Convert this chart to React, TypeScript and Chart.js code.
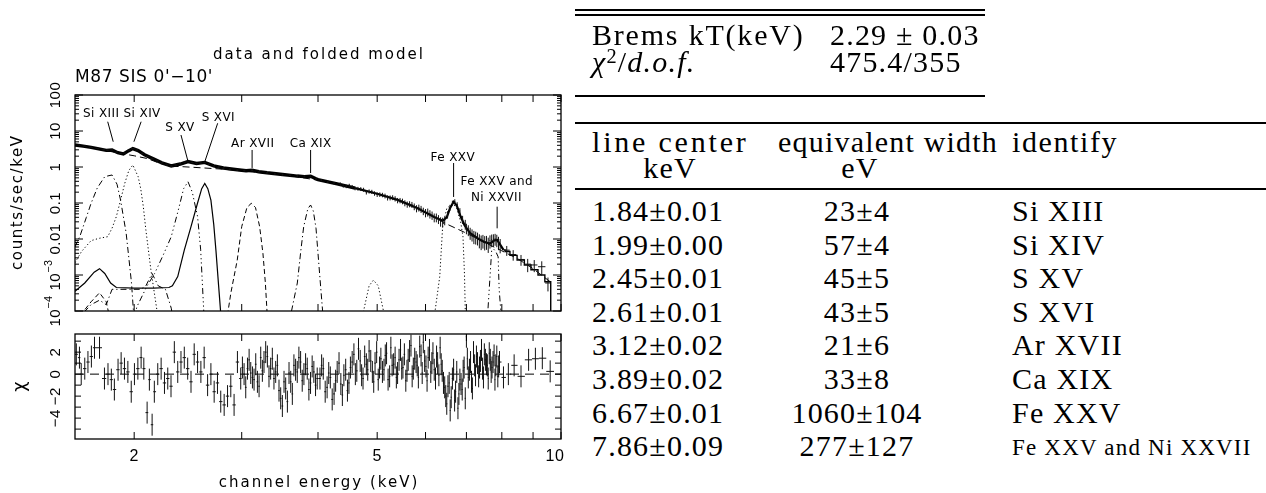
import React, { useEffect, useRef } from 'react';
import { Chart, registerables } from 'chart.js';

Chart.register(...registerables);

// ---------------- axis ranges / ticks ----------------
const E_MIN = 1.6;
const E_MAX = 10;
const RATE_MIN = 1e-4;
const RATE_MAX = 100;
const CHI_MIN = -5.9;
const CHI_MAX = 3.65;
const CHAN_HALF_WIDTH = 0.012;

const energyTicks = [2, 3, 4, 5, 6, 7, 8, 9, 10];
const energyLabelValues = [2, 5, 10];
const energyLabels = ['2', '5', '10'];
const rateDecades = [1e-4, 1e-3, 0.01, 0.1, 1, 10, 100];
const rateLabelBase = ['10', '10', '0.01', '0.1', '1', '10', '100'];
const rateLabelExp = ['−4', '−3', '', '', '', '', ''];
const chiTicks = [-5, -4, -3, -2, -1, 0, 1, 2, 3];
const chiLabelValues = [2, 0, -2, -4];
const chiLabels = ['2', '0', '−2', '−4'];

// ---------------- spectrum data (counts/sec/keV) ----------------
const specE = [1.62, 1.66, 1.70, 1.74, 1.78, 1.81, 1.84, 1.87, 1.90, 1.93, 1.96, 1.99, 2.02, 2.06, 2.10, 2.14, 2.18, 2.22, 2.26, 2.30, 2.34, 2.38, 2.42, 2.45, 2.49, 2.53, 2.57, 2.61, 2.65, 2.70, 2.75, 2.80, 2.87, 2.95, 3.03, 3.12, 3.20, 3.30, 3.40, 3.50, 3.60, 3.70, 3.80, 3.89, 3.97, 4.05, 4.15, 4.25,
  4.35, 4.45, 4.55, 4.65, 4.75, 4.85, 4.95, 5.05, 5.15, 5.25, 5.35, 5.45, 5.55, 5.65, 5.75, 5.85, 5.95, 6.05, 6.15, 6.25, 6.35, 6.45, 6.52, 6.58, 6.64, 6.70, 6.76, 6.83, 6.90, 6.97, 7.05, 7.15, 7.25, 7.35, 7.45, 7.55, 7.65, 7.75, 7.85, 7.95];
const specRate = [4.00, 3.80, 3.52, 3.30, 3.02, 2.93, 2.98, 2.60, 2.35, 2.45, 2.90, 3.28, 2.95, 2.40, 1.95, 1.70, 1.48, 1.30, 1.15, 1.06, 1.13, 1.22, 1.36, 1.44, 1.33, 1.24, 1.28, 1.35, 1.20, 1.06, 0.99, 0.93, 0.87, 0.82, 0.80, 0.81, 0.74, 0.69, 0.65, 0.61, 0.58, 0.56, 0.55, 0.55, 0.47, 0.43, 0.39, 0.355,
  0.34, 0.29, 0.285, 0.25, 0.235, 0.21, 0.185, 0.172, 0.158, 0.14, 0.132, 0.118, 0.10, 0.094, 0.080, 0.074, 0.060, 0.056, 0.046, 0.040, 0.031, 0.033, 0.048, 0.075, 0.10, 0.11, 0.09, 0.06, 0.035, 0.026, 0.018, 0.0135, 0.0115, 0.0095, 0.0092, 0.0086, 0.0090, 0.0098, 0.0095, 0.0070];
const specErr = [0.15, 0.14, 0.13, 0.12, 0.11, 0.11, 0.11, 0.10, 0.09, 0.09, 0.10, 0.11, 0.10, 0.09, 0.08, 0.07, 0.06, 0.05, 0.05, 0.045, 0.05, 0.05, 0.055, 0.06, 0.055, 0.05, 0.05, 0.055, 0.05, 0.045, 0.045, 0.04, 0.04, 0.04, 0.04, 0.04, 0.035, 0.035, 0.035, 0.035, 0.035, 0.035, 0.035, 0.035, 0.03, 0.03, 0.03, 0.03,
  0.035, 0.032, 0.032, 0.03, 0.03, 0.028, 0.026, 0.025, 0.024, 0.022, 0.022, 0.02, 0.019, 0.018, 0.017, 0.016, 0.014, 0.014, 0.012, 0.011, 0.009, 0.009, 0.011, 0.014, 0.016, 0.017, 0.015, 0.012, 0.009, 0.008, 0.006, 0.005, 0.0045, 0.004, 0.0038, 0.0036, 0.0036, 0.0037, 0.0036, 0.0030];
// additional interleaved channels 4.4-7.9 keV
const specE2 = [4.40, 4.50, 4.60, 4.70, 4.80, 4.90, 5.00, 5.10, 5.20, 5.30, 5.40, 5.50, 5.60, 5.70, 5.80, 5.90, 6.00, 6.10, 6.20, 6.30, 6.40, 7.00, 7.10, 7.20, 7.30, 7.40, 7.50, 7.60, 7.70, 7.80, 7.90];
const specRate2 = [0.30, 0.31, 0.255, 0.245, 0.20, 0.205, 0.172, 0.168, 0.14, 0.142, 0.118, 0.112, 0.092, 0.090, 0.071, 0.068, 0.054, 0.050, 0.040, 0.036, 0.030, 0.020, 0.0150, 0.0120, 0.0108, 0.0087, 0.0084, 0.0075, 0.0096, 0.0102, 0.0082];
const specErr2 = [0.033, 0.032, 0.03, 0.03, 0.028, 0.027, 0.025, 0.024, 0.023, 0.022, 0.02, 0.02, 0.018, 0.017, 0.016, 0.015, 0.014, 0.013, 0.011, 0.010, 0.009, 0.0065, 0.0055, 0.0048, 0.0042, 0.0038, 0.0036, 0.0034, 0.0037, 0.0037, 0.0033];

// grouped high-energy bins
const binE = [8.15, 8.35, 8.60, 8.82, 9.04, 9.30, 9.52];
const binRate = [0.0049, 0.0037, 0.0027, 0.0020, 0.0019, 0.0017, 0.0006];
const binErr = [0.0015, 0.0012, 0.0009, 0.0008, 0.0007, 0.0007, 0.00025];
const binHalfW = [0.09, 0.10, 0.12, 0.11, 0.11, 0.13, 0.10];

// folded model (total)
const modelE = [1.60, 1.65, 1.70, 1.75, 1.80, 1.84, 1.88, 1.92, 1.96, 1.99, 2.03, 2.08, 2.15, 2.22, 2.30, 2.38, 2.45, 2.53, 2.61, 2.70, 2.80, 2.95, 3.05, 3.12, 3.20, 3.30, 3.50, 3.70, 3.80, 3.89, 3.97, 4.00, 4.30, 4.60, 5.00, 5.40, 5.80, 6.20, 6.40, 6.50, 6.58, 6.67, 6.75, 6.85, 6.95, 7.10, 7.30, 7.50, 7.65, 7.78, 7.86, 7.95, 8.05];
const modelRate = [4.10, 3.80, 3.50, 3.18, 2.90, 2.97, 2.50, 2.32, 2.85, 3.25, 2.85, 2.20, 1.68, 1.30, 1.07, 1.21, 1.42, 1.25, 1.34, 1.07, 0.94, 0.84, 0.79, 0.81, 0.74, 0.69, 0.62, 0.56, 0.54, 0.555, 0.47, 0.445, 0.34, 0.26, 0.18, 0.122, 0.074, 0.041, 0.032, 0.040, 0.072, 0.108, 0.085, 0.042, 0.024, 0.0145, 0.0105, 0.0082, 0.0075, 0.0092, 0.0094, 0.0070, 0.0050];
const stepE = [8.05, 8.15, 8.35, 8.60, 8.82, 9.04, 9.30, 9.52, 9.62, 9.62];
const stepRate = [0.0050, 0.0045, 0.0035, 0.0026, 0.0019, 0.0014, 0.0010, 0.00065, 0.00065, 0.000001];

// bremsstrahlung continuum component
const contE = [1.6, 1.7, 1.8, 1.9, 2.0, 2.1, 2.2, 2.3, 2.4, 2.5, 2.6, 2.8, 3.0, 3.3, 3.6, 4.0, 4.5, 5.0, 5.5, 6.0, 6.5, 7.0, 7.5, 8.0, 8.5, 9.0, 9.6];
const contRate = [4.0, 3.45, 2.85, 2.38, 2.05, 1.72, 1.28, 1.05, 1.02, 0.98, 0.94, 0.87, 0.78, 0.67, 0.57, 0.43, 0.29, 0.18, 0.11, 0.056, 0.026, 0.0145, 0.0080, 0.0047, 0.0028, 0.0015, 0.00065];

// gaussian line components [keV, counts/sec/keV]
const gSiXIII = [[1.60, 0.006], [1.63, 0.012], [1.67, 0.04], [1.70, 0.098], [1.74, 0.26], [1.79, 0.54], [1.84, 0.60], [1.875, 0.33], [1.90, 0.12], [1.94, 0.015], [1.96, 0.003], [1.98, 0.0006], [2.00, 0.00005]];
const gSiXIV = [[1.60, 0.0022], [1.64, 0.0045], [1.70, 0.009], [1.75, 0.0104], [1.81, 0.0116], [1.84, 0.02], [1.87, 0.042], [1.90, 0.12], [1.93, 0.35], [1.96, 0.80], [1.99, 1.14], [2.03, 0.54], [2.05, 0.25], [2.07, 0.08], [2.09, 0.018], [2.13, 0.0014], [2.18, 0.0001], [2.20, 0.00003]];
const gSXV = [[2.00, 0.00005], [2.02, 0.00013], [2.10, 0.0005], [2.16, 0.0011], [2.23, 0.0035], [2.30, 0.0116], [2.36, 0.06], [2.41, 0.25], [2.45, 0.39], [2.49, 0.2], [2.54, 0.042], [2.57, 0.005], [2.60, 0.0001], [2.62, 0.00002]];
const gSXVI = [[1.60, 0.00035], [1.66, 0.0006], [1.72, 0.0012], [1.755, 0.0015], [1.79, 0.0011], [1.83, 0.0006], [1.87, 0.00045], [2.00, 0.00043], [2.15, 0.00043], [2.28, 0.00045], [2.31, 0.0005], [2.357, 0.0009], [2.416, 0.0049], [2.478, 0.022], [2.54, 0.10], [2.58, 0.25], [2.61, 0.35], [2.64, 0.25], [2.671, 0.12], [2.70, 0.025], [2.722, 0.0049], [2.75, 0.0005], [2.77, 0.0001], [2.79, 0.00002]];
const gArXVII = [[1.60, 0.00005], [1.70, 0.00018], [1.755, 0.00032], [1.80, 0.00018], [1.83, 0.00005], [2.83, 0.00003], [2.85, 0.0001], [2.88, 0.00032], [2.95, 0.0026], [3.00, 0.022], [3.06, 0.075], [3.11, 0.098], [3.16, 0.075], [3.21, 0.022], [3.25, 0.004], [3.28, 0.0006], [3.30, 0.0001], [3.32, 0.00002]];
const gCaXIX = [[1.60, 0.00005], [1.70, 0.00015], [1.755, 0.0002], [1.80, 0.00015], [1.84, 0.0004], [2.05, 0.0004], [2.09, 0.0005], [2.14, 0.0011], [2.19, 0.0005], [2.25, 0.0004], [2.30, 0.00012], [2.33, 0.00003], [3.60, 0.00003], [3.62, 0.0001], [3.70, 0.0006], [3.75, 0.0049], [3.79, 0.022], [3.85, 0.07], [3.89, 0.088], [3.93, 0.06], [3.97, 0.02], [4.00, 0.004], [4.03, 0.0008], [4.07, 0.0001], [4.09, 0.00002]];
const gFeXXV = [[4.70, 0.00003], [4.75, 0.0001], [4.85, 0.0005], [4.93, 0.00072], [5.02, 0.0005], [5.12, 0.0001], [5.16, 0.00003], [6.20, 0.00003], [6.22, 0.0001], [6.33, 0.0009], [6.40, 0.022], [6.50, 0.07], [6.60, 0.09], [6.67, 0.092], [6.75, 0.07], [6.85, 0.03], [6.91, 0.0116], [6.95, 0.001], [6.97, 0.0001], [6.99, 0.00002]];
const gFeNi = [[7.57, 0.00003], [7.59, 0.0001], [7.64, 0.0006], [7.70, 0.0049], [7.76, 0.0052], [7.82, 0.0045], [7.89, 0.0032], [7.92, 0.0004], [7.97, 0.0001], [7.99, 0.00002]];

// line identification labels
const lineLabels = ['Si XIII', 'Si XIV', 'S XV', 'S XVI', 'Ar XVII', 'Ca XIX', 'Fe XXV', 'Fe XXV and', 'Ni XXVII'];
const labelE = [1.766, 2.061, 2.377, 2.747, 3.127, 3.89, 6.65, 7.85, 7.84];
const labelV = [29.7, 29.7, 12.5, 23.7, 4.35, 4.5, 1.84, 0.383, 0.142];
const pointerFromE = [1.81, 2.053, 2.386, 2.74, 3.12, 3.89, 6.67, 7.86];
const pointerFromV = [18.1, 18.1, 7.74, 16.4, 2.97, 2.97, 1.29, 0.079];
const pointerToE = [1.848, 1.998, 2.451, 2.61, 3.12, 3.89, 6.67, 7.86];
const pointerToV = [5.04, 5.04, 1.40, 1.40, 0.94, 0.68, 0.147, 0.0198];

// ---------------- residuals (chi) ----------------
const residE = [1.608, 1.627, 1.638, 1.660, 1.680, 1.702, 1.722, 1.755, 1.788, 1.812, 1.835, 1.856, 1.882, 1.904, 1.928, 1.953, 1.978, 2.002, 2.028, 2.053, 2.074, 2.100, 2.118, 2.140, 2.158, 2.186, 2.214, 2.242, 2.270, 2.298, 2.327, 2.357, 2.386, 2.416, 2.447, 2.478, 2.508, 2.540, 2.572, 2.604, 2.638, 2.671, 2.704, 2.738, 2.772, 2.808, 2.844, 2.879, 2.915, 2.952, 2.989, 3.027, 3.066, 3.104, 3.143, 3.183, 3.223, 3.263, 3.305, 3.346, 3.388, 3.432, 3.475, 3.519, 3.564, 3.609, 3.653, 3.699, 3.746, 3.793, 3.841, 3.889, 3.938, 3.988,
  4.03, 4.08, 4.14, 4.19, 4.25, 4.30, 4.36, 4.41, 4.47, 4.52, 4.58, 4.63, 4.69, 4.74, 4.80, 4.85, 4.91, 4.96, 5.02, 5.07, 5.13, 5.18, 5.24, 5.29, 5.35, 5.40, 5.46, 5.51, 5.57, 5.62, 5.68, 5.73, 5.79, 5.84, 5.90, 5.95, 6.01, 6.06, 6.12, 6.17, 6.23, 6.28, 6.34, 6.39, 6.45, 6.50, 6.56, 6.61, 6.67, 6.72, 6.78, 6.83, 6.89, 6.94, 7.00, 7.05, 7.11, 7.16, 7.22, 7.27, 7.33, 7.38, 7.44, 7.49, 7.55, 7.60, 7.66, 7.71, 7.77, 7.82, 7.88, 7.93,
  8.05, 8.20, 8.38, 8.60, 8.85, 9.08, 9.32, 9.60];
const residChi = [1.8, 1.5, 0.0, 0.5, 1.1, 1.6, 2.4, 2.4, -0.4, 0.0, -0.5, -1.4, 0.4, 1.0, 0.5, 0.2, -1.6, 0.0, 0.5, 1.5, 0.5, -3.5, -0.5, -4.6, -1.6, 0.0, 0.5, -0.8, -0.4, -1.1, 2.0, 0.2, 1.1, 1.5, 0.5, -0.7, 1.8, 1.1, 0.2, 1.5, -1.0, 0.0, -1.6, -0.8, -2.5, -2.8, -2.0, -1.1, -2.8, 1.1, -0.4, 0.0, 0.5, 0.1, -0.5, -0.7, 1.5, 1.1, 1.6, 0.5, -0.4, 0.8, -2.2, -0.7, -2.5, -0.7, 0.8, 0.2, 1.1, 0.0, 0.5, -0.8, 0.2, -0.4,
  -0.4, 0.5, -1.2, -0.3, -1.8, 0.2, -0.9, -0.1, -1.5, 0.6, 1.8, 0.3, 1.2, -0.4, 0.9, 2.1, 0.2, 1.0, -0.5, 1.4, 0.4, 1.9, -0.2, 0.8, 1.5, 0.1, 2.2, 0.6, -0.6, 1.3, 2.6, 0.5, 1.1, -0.3, 1.7, 2.9, 0.7, 1.5, 0.2, 1.9, -0.4, 1.0, 2.4, 0.3, -1.2, -2.7, -0.8, -2.1, 0.4, -1.6, -3.1, -0.5, -1.4, 0.6, 3.4, -0.3, 1.1, -1.3, 0.8, 1.6, -0.2, 1.2, 0.5, 1.8, 0.9, -0.4, 1.3, 0.6, 1.7, 0.8, -0.2, 1.1,
  -0.3, 0.0, 0.8, -0.2, 1.3, 1.4, 1.45, 0.25];
// additional interleaved channels 3-8 keV
const residE2 = [3.008, 3.046, 3.085, 3.124, 3.163, 3.203, 3.243, 3.284, 3.325, 3.367, 3.41, 3.453, 3.497, 3.541, 3.586, 3.631, 3.676, 3.722, 3.769, 3.817, 3.865, 3.913, 3.963,
  4.055, 4.11, 4.165, 4.22, 4.275, 4.33, 4.385, 4.44, 4.495, 4.55, 4.605, 4.66, 4.715, 4.77, 4.825, 4.88, 4.935, 4.99, 5.045, 5.10, 5.155, 5.21, 5.265, 5.32, 5.375, 5.43, 5.485, 5.54, 5.595, 5.65, 5.705, 5.76, 5.815, 5.87, 5.925, 5.98, 6.035, 6.09, 6.145, 6.20, 6.255, 6.31, 6.365, 6.42, 6.475, 6.53, 6.585, 6.64, 6.695, 6.75, 6.805, 6.86, 6.915, 6.97, 7.025, 7.08, 7.135, 7.19, 7.245, 7.30, 7.355, 7.41, 7.465, 7.52, 7.575, 7.63, 7.685, 7.74, 7.795, 7.85, 7.905];
const residChi2 = [0.6, -1.2, 1.3, -0.3, 0.9, -1.1, 0.3, 2.0, -0.2, 1.4, 0.2, -1.5, -2.9, -1.3, 0.1, -1.8, 0.4, 1.5, -0.6, 0.9, -1.4, 0.7, -1.0,
  0.8, -1.6, 0.1, -2.3, -0.6, 1.0, -1.9, 0.4, -0.8, 1.1, 0.0, 2.3, -0.1, 1.6, 0.4, 1.2, -0.7, 2.0, 0.6, 0.2, 1.7, -0.5, 2.4, 0.9, -0.3, 1.3, 0.5, 1.8, 0.3, 2.1, -0.2, 1.4, 0.8, 2.5, 0.1, 1.2, -0.6, 2.2, 1.0, 0.4, 1.6, -0.1, 0.9, -0.8, -2.0, -1.1, -3.3, -0.4, -2.4, 0.2, -1.8, -0.9, 0.3, -2.2, 1.4, 0.4, -0.7, 2.0, -0.1, 1.0, 0.6, 2.2, -0.3, 1.3, 0.8, 1.9, 0.2, 1.1, -0.5, 1.6, 0.7];

// ---------------- table ----------------
const fitValues = ['2.29 ± 0.03', '475.4/355'];
const lineCenters = ['1.84±0.01', '1.99±0.00', '2.45±0.01', '2.61±0.01', '3.12±0.02', '3.89±0.02', '6.67±0.01', '7.86±0.09'];
const eqWidths = ['23±4', '57±4', '45±5', '43±5', '21±6', '33±8', '1060±104', '277±127'];
const identifies = ['Si XIII', 'Si XIV', 'S XV', 'S XVI', 'Ar XVII', 'Ca XIX', 'Fe XXV', 'Fe XXV and Ni XXVII'];

// ---------------- layout / style ----------------
const SANS = '"DejaVu Sans", "Liberation Sans", sans-serif';
const NUM = '"Liberation Sans", "DejaVu Sans", sans-serif';
const SERIF = '"Liberation Serif", "DejaVu Serif", serif';
const UP_W = 580, UP_H = 335;
const LO_TOP = 320, LO_H = 173;
const PLOT_L = 75, PLOT_R = 561;
const UP_T = 95, UP_B = 311;
const LO_T = 334, LO_B = 439;

const SOLID: number[] = [];
const DASH = [5, 3];
const DOT = [1.2, 2.4];
const DASHDOT = [6, 3, 1.2, 3];
const DASH3DOT = [6, 3, 1.2, 3, 1.2, 3, 1.2, 3];

const xy = (es: number[], vs: number[]) => es.map((e, i) => ({ x: e, y: vs[i] }));
const pairs = (p: number[][]) => p.map(([x, y]) => ({ x, y }));
const lineDs = (data: any[], dash: number[], width = 1, extra: any = {}) => ({
  data, showLine: true, borderColor: '#000', borderWidth: width, borderDash: dash,
  pointRadius: 0, fill: false, tension: 0, clip: 0, ...extra,
});

function rotText(ctx: CanvasRenderingContext2D, text: string, cx: number, cy: number, font: string, ls = 0) {
  ctx.save();
  ctx.translate(cx, cy);
  ctx.rotate(-Math.PI / 2);
  ctx.font = font;
  (ctx as any).letterSpacing = ls + 'px';
  ctx.textAlign = 'center';
  ctx.textBaseline = 'middle';
  ctx.fillText(text, ls / 2, 0);
  ctx.restore();
}

function rotLabel(ctx: CanvasRenderingContext2D, cx: number, cy: number, base: string, exp: string, size: number) {
  ctx.save();
  ctx.translate(cx, cy);
  ctx.rotate(-Math.PI / 2);
  ctx.textBaseline = 'middle';
  ctx.textAlign = 'left';
  (ctx as any).letterSpacing = '0.5px';
  ctx.font = `${size}px ${NUM}`;
  const wb = ctx.measureText(base).width;
  ctx.font = `${size * 0.72}px ${NUM}`;
  const we = exp ? ctx.measureText(exp).width : 0;
  const start = -(wb + we) / 2;
  ctx.font = `${size}px ${NUM}`;
  ctx.fillText(base, start, 0);
  if (exp) {
    ctx.font = `${size * 0.72}px ${NUM}`;
    ctx.fillText(exp, start + wb, -size * 0.45);
  }
  ctx.restore();
}

function seg(ctx: CanvasRenderingContext2D, x1: number, y1: number, x2: number, y2: number) {
  ctx.moveTo(x1, y1);
  ctx.lineTo(x2, y2);
}

function frameAndXTicks(ctx: CanvasRenderingContext2D, a: any, x: any) {
  ctx.strokeStyle = '#000';
  ctx.lineWidth = 1.3;
  ctx.strokeRect(a.left, a.top, a.right - a.left, a.bottom - a.top);
  ctx.lineWidth = 1;
  ctx.beginPath();
  energyTicks.forEach((e) => {
    const px = x.getPixelForValue(e);
    seg(ctx, px, a.bottom, px, a.bottom - 7);
    seg(ctx, px, a.top, px, a.top + 7);
  });
  ctx.stroke();
}

const upperDecor = {
  id: 'upperDecor',
  afterDatasetsDraw(chart: any) {
    const { ctx, chartArea: a, scales } = chart;
    const x = scales.x, y = scales.y;
    ctx.save();
    ctx.beginPath();
    ctx.rect(a.left, a.top, a.right - a.left, a.bottom - a.top);
    ctx.clip();
    ctx.strokeStyle = '#111';
    ctx.lineWidth = 1;
    const cross = (e: number, v: number, s: number, hw: number) => {
      const px = x.getPixelForValue(e);
      const py = y.getPixelForValue(v);
      ctx.beginPath();
      seg(ctx, px, y.getPixelForValue(v + s), px, y.getPixelForValue(Math.max(v - s, 1e-7)));
      seg(ctx, x.getPixelForValue(e - hw), py, x.getPixelForValue(e + hw), py);
      ctx.stroke();
    };
    specE.forEach((e, i) => cross(e, specRate[i], specErr[i], CHAN_HALF_WIDTH));
    specE2.forEach((e, i) => cross(e, specRate2[i], specErr2[i], CHAN_HALF_WIDTH));
    binE.forEach((e, i) => cross(e, binRate[i], binErr[i], binHalfW[i]));
    ctx.restore();
  },
  afterDraw(chart: any) {
    const { ctx, chartArea: a, scales } = chart;
    const x = scales.x, y = scales.y;
    ctx.save();
    frameAndXTicks(ctx, a, x);
    ctx.beginPath();
    rateDecades.forEach((d) => {
      for (let m = 1; m <= 9; m++) {
        const v = d * m;
        if (v > RATE_MAX * 1.0001) break;
        const py = y.getPixelForValue(v);
        const len = m === 1 ? 8 : 4;
        seg(ctx, a.left, py, a.left + len, py);
        seg(ctx, a.right, py, a.right - len, py);
      }
    });
    ctx.stroke();
    ctx.fillStyle = '#000';
    rateDecades.forEach((d, i) => rotLabel(ctx, a.left - 19, y.getPixelForValue(d), rateLabelBase[i], rateLabelExp[i], 15));
    rotText(ctx, 'counts/sec/keV', 18, (a.top + a.bottom) / 2, `15px ${SANS}`, 1.6);
    ctx.textBaseline = 'middle';
    ctx.textAlign = 'center';
    ctx.font = `15px ${SANS}`;
    (ctx as any).letterSpacing = '2px';
    ctx.fillText('data and folded model', (a.left + a.right) / 2 + 1, a.top - 40);
    ctx.textAlign = 'left';
    ctx.font = `17px ${SANS}`;
    (ctx as any).letterSpacing = '0.6px';
    ctx.fillText("M87 SIS 0'−10'", a.left, a.top - 17);
    ctx.font = `12px ${SANS}`;
    (ctx as any).letterSpacing = '0.4px';
    ctx.textAlign = 'center';
    lineLabels.forEach((t, i) => ctx.fillText(t, x.getPixelForValue(labelE[i]), y.getPixelForValue(labelV[i])));
    ctx.lineWidth = 1;
    ctx.beginPath();
    pointerFromE.forEach((e, i) => {
      seg(ctx, x.getPixelForValue(e), y.getPixelForValue(pointerFromV[i]), x.getPixelForValue(pointerToE[i]), y.getPixelForValue(pointerToV[i]));
    });
    ctx.stroke();
    ctx.restore();
  },
};

function drawResiduals(ctx: CanvasRenderingContext2D, x: any, y: any, es: number[], cs: number[]) {
  ctx.beginPath();
  es.forEach((e, i) => {
    const lo = i > 0 ? (es[i - 1] + e) / 2 : e - (es[1] - e) / 2;
    const hi = i < es.length - 1 ? (es[i + 1] + e) / 2 : e + (e - es[i - 1]) / 2;
    const px = x.getPixelForValue(e);
    const c = cs[i];
    seg(ctx, px, y.getPixelForValue(c + 1), px, y.getPixelForValue(c - 1));
    const py = y.getPixelForValue(c);
    seg(ctx, x.getPixelForValue(lo), py, x.getPixelForValue(hi), py);
  });
  ctx.stroke();
}

const lowerDecor = {
  id: 'lowerDecor',
  afterDatasetsDraw(chart: any) {
    const { ctx, chartArea: a, scales } = chart;
    const x = scales.x, y = scales.y;
    ctx.save();
    ctx.beginPath();
    ctx.rect(a.left, a.top, a.right - a.left, a.bottom - a.top);
    ctx.clip();
    ctx.strokeStyle = '#111';
    ctx.lineWidth = 1;
    const merged = residE.map((e, i) => [e, residChi[i]]).concat(residE2.map((e, i) => [e, residChi2[i]])).sort((p, q) => p[0] - q[0]);
    drawResiduals(ctx, x, y, merged.map((p) => p[0]), merged.map((p) => p[1]));
    ctx.restore();
  },
  afterDraw(chart: any) {
    const { ctx, chartArea: a, scales } = chart;
    const x = scales.x, y = scales.y;
    ctx.save();
    frameAndXTicks(ctx, a, x);
    ctx.beginPath();
    chiTicks.forEach((c) => {
      const py = y.getPixelForValue(c);
      seg(ctx, a.left, py, a.left + 6, py);
      seg(ctx, a.right, py, a.right - 6, py);
    });
    ctx.stroke();
    ctx.fillStyle = '#000';
    chiLabelValues.forEach((c, i) => rotLabel(ctx, a.left - 19, y.getPixelForValue(c), chiLabels[i], '', 15));
    rotText(ctx, 'χ', 20, (a.top + a.bottom) / 2, `18px ${SANS}`, 0);
    ctx.textAlign = 'center';
    ctx.textBaseline = 'middle';
    ctx.font = `16px ${NUM}`;
    (ctx as any).letterSpacing = '0.5px';
    energyLabelValues.forEach((e, i) => {
      const px = Math.min(x.getPixelForValue(e), a.right - 6);
      ctx.fillText(energyLabels[i], px, a.bottom + 18);
    });
    ctx.font = `15px ${SANS}`;
    (ctx as any).letterSpacing = '2px';
    ctx.fillText('channel energy (keV)', (a.left + a.right) / 2 + 1, a.bottom + 44);
    ctx.restore();
  },
};

function upperConfig(): any {
  const all = xy(modelE, modelRate);
  const low = all.filter((p) => p.x <= 4.6);
  const high = all.filter((p) => p.x >= 4.6);
  return {
    type: 'scatter',
    data: {
      datasets: [
        lineDs(pairs(gSiXIII), DASHDOT),
        lineDs(pairs(gSiXIV), DOT),
        lineDs(pairs(gSXV), DASH3DOT),
        lineDs(pairs(gSXVI), SOLID, 1.2),
        lineDs(pairs(gArXVII), DASH),
        lineDs(pairs(gCaXIX), DASHDOT),
        lineDs(pairs(gFeXXV), DOT),
        lineDs(pairs(gFeNi), DASH3DOT),
        lineDs(xy(contE, contRate), [7, 4], 1),
        lineDs(low, SOLID, 3.4),
        lineDs(high, SOLID, 2.2),
        lineDs(xy(stepE, stepRate), SOLID, 1.4, { stepped: 'middle' }),
      ],
    },
    options: {
      responsive: false,
      animation: false,
      devicePixelRatio: 1,
      events: [],
      layout: { padding: { left: PLOT_L, right: UP_W - PLOT_R, top: UP_T, bottom: UP_H - UP_B } },
      plugins: { legend: { display: false }, tooltip: { enabled: false }, title: { display: false } },
      scales: {
        x: { type: 'logarithmic', min: E_MIN, max: E_MAX, display: false },
        y: { type: 'logarithmic', min: RATE_MIN, max: RATE_MAX, display: false },
      },
    },
    plugins: [upperDecor],
  };
}

function lowerConfig(): any {
  return {
    type: 'scatter',
    data: {
      datasets: [
        lineDs([{ x: E_MIN, y: 0 }, { x: E_MAX, y: 0 }], [9, 6], 1),
      ],
    },
    options: {
      responsive: false,
      animation: false,
      devicePixelRatio: 1,
      events: [],
      layout: { padding: { left: PLOT_L, right: UP_W - PLOT_R, top: LO_T - LO_TOP, bottom: LO_TOP + LO_H - LO_B } },
      plugins: { legend: { display: false }, tooltip: { enabled: false }, title: { display: false } },
      scales: {
        x: { type: 'logarithmic', min: E_MIN, max: E_MAX, display: false },
        y: { type: 'linear', min: CHI_MIN, max: CHI_MAX, display: false },
      },
    },
    plugins: [lowerDecor],
  };
}

function Txt({ x, y, children, align = 'left', size = 30, ls = 1.2 }: any) {
  const style: any = {
    position: 'absolute', left: x, top: y - size / 2, fontSize: size, lineHeight: `${size}px`,
    fontFamily: SERIF, whiteSpace: 'nowrap', letterSpacing: ls, color: '#000',
    transform: align === 'center' ? 'translateX(-50%)' : undefined,
  };
  return <div style={style}>{children}</div>;
}

function Rule({ x1, x2, y, h = 2 }: any) {
  return <div style={{ position: 'absolute', left: x1, top: y - h / 2, width: x2 - x1, height: h, background: '#000' }} />;
}

function Table() {
  const rowY = (i: number) => 211 + 33.6 * i;
  return (
    <>
      <Rule x1={575} x2={985} y={10} />
      <Rule x1={575} x2={985} y={15} />
      <Txt x={592} y={35} ls={1.8}>Brems kT(keV)</Txt>
      <Txt x={830} y={35}>{fitValues[0]}</Txt>
      <Txt x={592} y={62}>
        <span style={{ fontStyle: 'italic' }}>χ</span>
        <span style={{ position: 'relative', top: '-0.45em', fontSize: '0.68em' }}>2</span>
        /<span style={{ fontStyle: 'italic' }}>d.o.f.</span>
      </Txt>
      <Txt x={830} y={62}>{fitValues[1]}</Txt>
      <Rule x1={575} x2={985} y={96} />
      <Rule x1={575} x2={1266} y={123} />
      <Txt x={592} y={142} ls={2.8}>line center</Txt>
      <Txt x={888} y={142} align="center">equivalent width</Txt>
      <Txt x={1012} y={142} ls={1.6}>identify</Txt>
      <Txt x={670} y={168} align="center">keV</Txt>
      <Txt x={860} y={168} align="center">eV</Txt>
      <Rule x1={575} x2={1266} y={189} h={2.5} />
      {lineCenters.map((t, i) => <Txt key={'c' + i} x={592} y={rowY(i)}>{t}</Txt>)}
      {eqWidths.map((t, i) => <Txt key={'w' + i} x={857} y={rowY(i)} align="center">{t}</Txt>)}
      {identifies.map((t, i) => (
        i === identifies.length - 1
          ? <Txt key={'n' + i} x={1012} y={rowY(i) + 1} size={23} ls={1.2}>{t}</Txt>
          : <Txt key={'n' + i} x={1012} y={rowY(i)}>{t}</Txt>
      ))}
    </>
  );
}

export default function App() {
  const upRef = useRef<HTMLCanvasElement>(null);
  const loRef = useRef<HTMLCanvasElement>(null);
  useEffect(() => {
    const up = new Chart(upRef.current as HTMLCanvasElement, upperConfig());
    const lo = new Chart(loRef.current as HTMLCanvasElement, lowerConfig());
    return () => {
      up.destroy();
      lo.destroy();
    };
  }, []);
  return (
    <div style={{ position: 'absolute', left: 0, top: 0, width: 1266, height: 493, background: '#fff', overflow: 'hidden' }}>
      <canvas ref={upRef} width={UP_W} height={UP_H} style={{ position: 'absolute', left: 0, top: 0, width: UP_W, height: UP_H }} />
      <canvas ref={loRef} width={UP_W} height={LO_H} style={{ position: 'absolute', left: 0, top: LO_TOP, width: UP_W, height: LO_H }} />
      <Table />
    </div>
  );
}
